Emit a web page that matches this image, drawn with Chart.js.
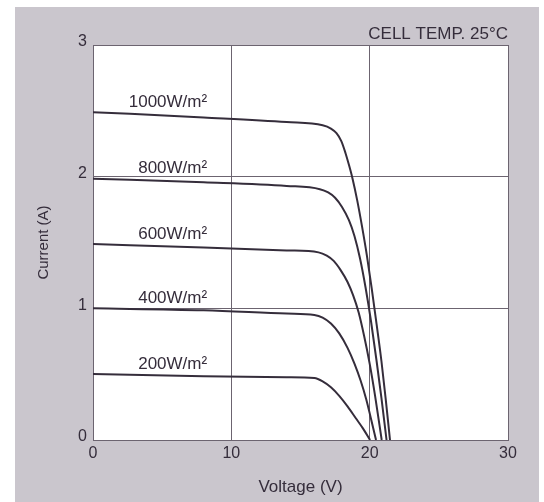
<!DOCTYPE html>
<html>
<head>
<meta charset="utf-8">
<script src="https://cdn.jsdelivr.net/npm/chart.js@4.4.0/dist/chart.umd.min.js"></script>
<style>
    html, body { margin: 0; padding: 0; background: #ffffff; }
    #ivChart { display: block; }
</style>
</head>
<body>
<canvas id="ivChart" width="544" height="502"></canvas>
<script>
// Curve labels (irradiance)
const irradianceLabels = ["1000W/m²", "800W/m²", "600W/m²", "400W/m²", "200W/m²"];

// I-V curves, voltage (V) and current (A)
const voltage1000 = [0, 8, 14, 16.6, 17.2, 17.6, 17.95, 18.25, 18.5, 18.75, 19.1, 19.45, 19.8, 20.15, 20.5, 20.85, 21.15, 21.47];
const current1000 = [2.49, 2.45, 2.415, 2.39, 2.365, 2.33, 2.27, 2.18, 2.09, 1.99, 1.82, 1.62, 1.40, 1.15, 0.88, 0.6, 0.32, 0];

const voltage800 = [0, 8, 14, 16.4, 17.0, 17.5, 18.0, 18.5, 18.9, 19.3, 19.7, 20.1, 20.5, 20.85, 21.22];
const current800 = [1.985, 1.958, 1.93, 1.905, 1.88, 1.84, 1.77, 1.67, 1.55, 1.38, 1.16, 0.9, 0.6, 0.32, 0];

const voltage600 = [0, 8, 14, 16.3, 16.9, 17.4, 17.9, 18.4, 18.8, 19.2, 19.6, 20.0, 20.4, 20.87];
const current600 = [1.488, 1.462, 1.44, 1.425, 1.40, 1.36, 1.29, 1.20, 1.10, 0.97, 0.79, 0.58, 0.33, 0];

const voltage400 = [0, 8, 14, 16.0, 16.6, 17.2, 17.8, 18.4, 18.9, 19.35, 19.75, 20.1, 20.46];
const current400 = [1.0, 0.985, 0.96, 0.95, 0.93, 0.885, 0.81, 0.70, 0.58, 0.45, 0.31, 0.16, 0];

const voltage200 = [0, 8, 14, 16.0, 16.6, 17.2, 17.8, 18.4, 19.0, 19.5, 20.03];
const current200 = [0.501, 0.485, 0.477, 0.47, 0.445, 0.40, 0.335, 0.255, 0.165, 0.09, 0];

// Axis ticks
const voltageTicks = [0, 10, 20, 30];
const currentTicks = [0, 1, 2, 3];

const labelVoltage = 8.25;   // right edge of curve labels
const noteText = "CELL TEMP. 25°C";

const inkColor = "#352d3b";
const gridColor = "#6c6470";
const paperColor = "#cac6cd";
const fontFamily = "'Liberation Sans', Arial, sans-serif";

const voltages = [voltage1000, voltage800, voltage600, voltage400, voltage200];
const currents = [current1000, current800, current600, current400, current200];

function toPoints(vs, is) {
    return vs.map((v, k) => ({ x: v, y: is[k] }));
}

// Gray card behind the chart, white plot area
const backdrop = {
    id: "backdrop",
    beforeDraw(chart) {
        const { ctx, chartArea } = chart;
        ctx.save();
        ctx.fillStyle = paperColor;
        ctx.fillRect(15, 7, 524, 495);
        ctx.fillStyle = "#ffffff";
        ctx.fillRect(chartArea.left, chartArea.top, chartArea.right - chartArea.left, chartArea.bottom - chartArea.top);
        ctx.restore();
    }
};

// Irradiance labels above each curve, plus the temperature note
const curveLabels = {
    id: "curveLabels",
    afterDatasetsDraw(chart) {
        const { ctx, chartArea } = chart;
        const xs = chart.scales.x;
        const ys = chart.scales.y;
        ctx.save();
        ctx.fillStyle = inkColor;
        ctx.font = "17px " + fontFamily;
        ctx.textAlign = "right";
        ctx.textBaseline = "middle";
        irradianceLabels.forEach((txt, k) => {
            const x = xs.getPixelForValue(labelVoltage);
            const y = ys.getPixelForValue(currents[k][0]) - 10;
            ctx.fillText(txt, x, y);
        });
        ctx.fillText(noteText, chartArea.right, 34);
        ctx.restore();
    }
};

const ctx = document.getElementById("ivChart").getContext("2d");
const ivChart = new Chart(ctx, {
    type: "scatter",
    data: {
        datasets: irradianceLabels.map((lbl, k) => ({
            label: lbl,
            data: toPoints(voltages[k], currents[k]),
            showLine: true,
            borderColor: inkColor,
            borderWidth: 2,
            pointRadius: 0,
            tension: 0.4,
            cubicInterpolationMode: "monotone"
        }))
    },
    options: {
        responsive: false,
        animation: false,
        layout: { padding: { left: 15, right: 36, top: 45, bottom: 0 } },
        plugins: {
            legend: { display: false },
            tooltip: { enabled: false }
        },
        scales: {
            x: {
                type: "linear",
                min: 0,
                max: 30,
                afterBuildTicks: (scale) => { scale.ticks = voltageTicks.map(v => ({ value: v })); },
                afterFit: (scale) => { scale.height = 62; },
                grid: { color: gridColor, lineWidth: 1, drawTicks: false },
                border: { color: gridColor, width: 1 },
                ticks: { color: inkColor, padding: 4, font: { family: fontFamily, size: 16 } },
                title: {
                    display: true,
                    text: "Voltage (V)",
                    color: inkColor,
                    font: { family: fontFamily, size: 17 },
                    padding: { top: 0, bottom: 4 }
                }
            },
            y: {
                type: "linear",
                min: 0,
                max: 3,
                afterBuildTicks: (scale) => { scale.ticks = currentTicks.map(v => ({ value: v })); },
                afterFit: (scale) => { scale.width = 78; },
                grid: { color: gridColor, lineWidth: 1, drawTicks: false },
                border: { color: gridColor, width: 1 },
                ticks: { color: inkColor, padding: 6, labelOffset: -3, font: { family: fontFamily, size: 16 } },
                title: {
                    display: true,
                    text: "Current (A)",
                    color: inkColor,
                    font: { family: fontFamily, size: 15 },
                    padding: { top: 20, bottom: 0 }
                }
            }
        }
    },
    plugins: [backdrop, curveLabels]
});
</script>
</body>
</html>
